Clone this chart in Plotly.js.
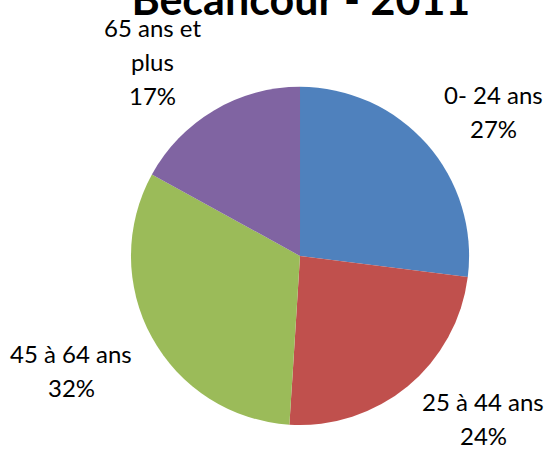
<!DOCTYPE html>
<html><head><meta charset="utf-8">
<script src="https://cdn.plot.ly/plotly-3.0.1.min.js"></script>
<style>html,body{margin:0;padding:0;background:#fff}#chart{width:548px;height:457px}</style>
</head><body><div id="chart"></div>
<script>
const categories = ["0- 24 ans", "25 à 44 ans", "45 à 64 ans", "65 ans et<br>plus"];
const values = [27, 24, 32, 17];
const colors = ["#4F81BD", "#C0504D", "#9BBB59", "#8064A2"];
const titleText = "Bécancour - 2011";

const W = 548, H = 457;
const dom = {x: [0.239, 0.856], y: [0.070, 0.810]};
const fontFam = "Lato, 'Open Sans', sans-serif";
const fontSize = 24, lineGap = 34, gapX = 23, gapY = -2;

// outside labels placed from the slice values (box corner nearest the pie sits on the mid-angle ray)
const total = values.reduce((a, b) => a + b, 0);
const cx = (dom.x[0] + dom.x[1]) / 2 * W;
const cy = (1 - (dom.y[0] + dom.y[1]) / 2) * H;
const R = Math.min((dom.x[1] - dom.x[0]) * W, (dom.y[1] - dom.y[0]) * H) / 2;
const annotations = [];
let cum = 0;
values.forEach((v, i) => {
  const mid = (cum + v / 2) / total * 2 * Math.PI;
  cum += v;
  const lines = categories[i].split("<br>").concat([Math.round(v / total * 100) + "%"]);
  const w = Math.max(...lines.map(s => s.length)) * fontSize * 0.46;
  const h = lines.length * lineGap;
  const s = Math.sin(mid), c = Math.cos(mid);
  const px = cx + s * (R + gapX), py = cy - c * (R + gapY);
  const bx = px + Math.sign(s) * w / 2;
  const by = py - Math.sign(c) * h / 2;
  lines.forEach((t, j) => {
    annotations.push({
      text: t, xref: "paper", yref: "paper", x: bx / W, y: 1 - by / H,
      xanchor: "center", yanchor: "middle", showarrow: false,
      yshift: ((lines.length - 1) / 2 - j) * lineGap,
      font: {family: fontFam, size: fontSize, color: "#000"}
    });
  });
});

Plotly.newPlot("chart", [{
  type: "pie",
  labels: categories,
  values: values,
  sort: false,
  direction: "clockwise",
  rotation: 0,
  marker: {colors: colors},
  textinfo: "none",
  domain: dom,
  hoverinfo: "none"
}], {
  width: W, height: H,
  margin: {l: 0, r: 0, t: 0, b: 0},
  showlegend: false,
  paper_bgcolor: "#fff",
  annotations: annotations,
  title: {text: "<b>" + titleText + "</b>", x: 0.549, xanchor: "center", y: 1, yanchor: "middle",
          font: {family: fontFam, size: 43, color: "#000"}}
}, {displayModeBar: false, staticPlot: true});
</script></body></html>
